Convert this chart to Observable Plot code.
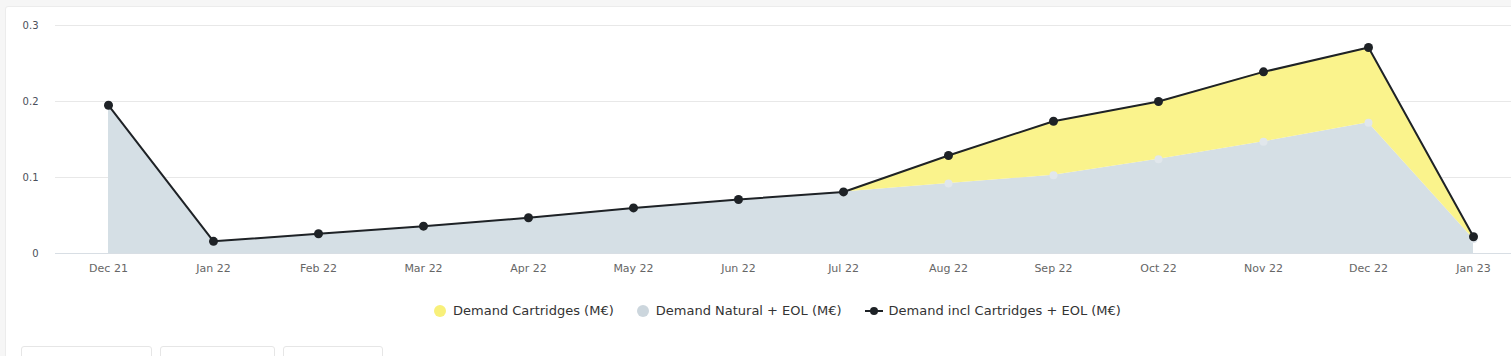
<!DOCTYPE html>
<html>
<head>
<meta charset="utf-8">
<script src="https://cdn.jsdelivr.net/npm/d3@7"></script>
<script src="https://cdn.jsdelivr.net/npm/@observablehq/plot@0.6"></script>
<style>
  html, body { margin: 0; padding: 0; background: #f6f6f6; width: 1511px; height: 356px; overflow: hidden; font-family: "DejaVu Sans", sans-serif; }
  #card { position: absolute; left: 5px; top: 6px; width: 1520px; height: 400px; background: #fff; border: 1px solid #ececec; border-radius: 3px; }
  #chart { position: absolute; left: 0; top: 0; }
  #legend { position: absolute; top: 303px; left: 434px; display: flex; font-size: 13px; color: #333; }
  .item { display: flex; align-items: center; margin-right: 23px; }
  .sw { width: 12px; height: 12px; border-radius: 50%; margin-right: 7px; }
  .btn { position: absolute; top: 346px; height: 20px; border: 1px solid #e6e6e6; border-radius: 3px; background: #fff; }
</style>
</head>
<body>
<div id="card"></div>
<div id="chart"></div>
<div id="legend"></div>
<div class="btn" style="left:21px;width:129px"></div>
<div class="btn" style="left:160px;width:113px"></div>
<div class="btn" style="left:283px;width:98px"></div>
<script>
const months = ["Dec 21","Jan 22","Feb 22","Mar 22","Apr 22","May 22","Jun 22","Jul 22","Aug 22","Sep 22","Oct 22","Nov 22","Dec 22","Jan 23"];
const natural    = [0.195, 0.016, 0.026, 0.036, 0.047, 0.060, 0.071, 0.081, 0.092, 0.103, 0.124, 0.147, 0.172, 0.019];
const cartridges = [0.000, 0.000, 0.000, 0.000, 0.000, 0.000, 0.000, 0.000, 0.037, 0.071, 0.076, 0.092, 0.099, 0.003];
const total      = [0.195, 0.016, 0.026, 0.036, 0.047, 0.060, 0.071, 0.081, 0.129, 0.174, 0.200, 0.239, 0.271, 0.022];
const yTicks = [0, 0.1, 0.2, 0.3];
const seriesNames = ["Demand Cartridges (M€)", "Demand Natural + EOL (M€)", "Demand incl Cartridges + EOL (M€)"];
const colors = { cart: "#faf38c", natural: "#d5dfe5", naturalDot: "#e1e7ec", line: "#1e2226" };

const stacked = [
  ...months.map((m, i) => ({ month: m, value: natural[i], series: "natural" })),
  ...months.map((m, i) => ({ month: m, value: cartridges[i], series: "cart" }))
];
const totalRows = months.map((m, i) => ({ month: m, value: total[i] }));
const naturalRows = months.map((m, i) => ({ month: m, value: natural[i] }));

const chart = Plot.plot({
  width: 1511,
  height: 285,
  marginLeft: 55,
  marginRight: 0,
  marginTop: 25,
  marginBottom: 32,
  style: { fontFamily: "'DejaVu Sans', sans-serif", fontSize: "11px", color: "#666", background: "transparent" },
  x: { type: "point", domain: months, range: [108, 1473], padding: 0, axis: null },
  y: { domain: [0, 0.3], axis: null },
  color: { domain: ["natural", "cart"], range: [colors.natural, colors.cart] },
  marks: [
    Plot.ruleY(yTicks, { stroke: "#e8e8e8", strokeWidth: 1 }),
    Plot.areaY(stacked, Plot.stackY({ x: "month", y: "value", fill: "series", z: "series", order: ["natural", "cart"], curve: "linear" })),
    Plot.ruleY([0], { stroke: "#d8dee4", strokeWidth: 1 }),
    Plot.dot(naturalRows, { x: "month", y: "value", r: 4, fill: colors.naturalDot }),
    Plot.line(totalRows, { x: "month", y: "value", stroke: colors.line, strokeWidth: 2 }),
    Plot.dot(totalRows, { x: "month", y: "value", r: 4.5, fill: colors.line }),
    Plot.axisX({ tickSize: 0, tickPadding: 11, fill: "#666", label: null }),
    Plot.axisY({ ticks: yTicks, tickSize: 0, tickPadding: 17, tickFormat: d => d === 0 ? "0" : d3.format(".1f")(d), fill: "#4a4f5a", fontSize: 10, label: null })
  ]
});
document.getElementById("chart").appendChild(chart);

const legend = document.getElementById("legend");
const swatches = [
  `<span class="sw" style="background:#f8f07a"></span>`,
  `<span class="sw" style="background:#ccd6dd"></span>`,
  `<svg width="18" height="12" style="margin-right:6px"><line x1="0" y1="6" x2="18" y2="6" stroke="${colors.line}" stroke-width="2"/><circle cx="9" cy="6" r="4" fill="${colors.line}"/></svg>`
];
seriesNames.forEach((name, i) => {
  const el = document.createElement("div");
  el.className = "item";
  el.innerHTML = swatches[i] + `<span>${name}</span>`;
  legend.appendChild(el);
});
</script>
</body>
</html>
